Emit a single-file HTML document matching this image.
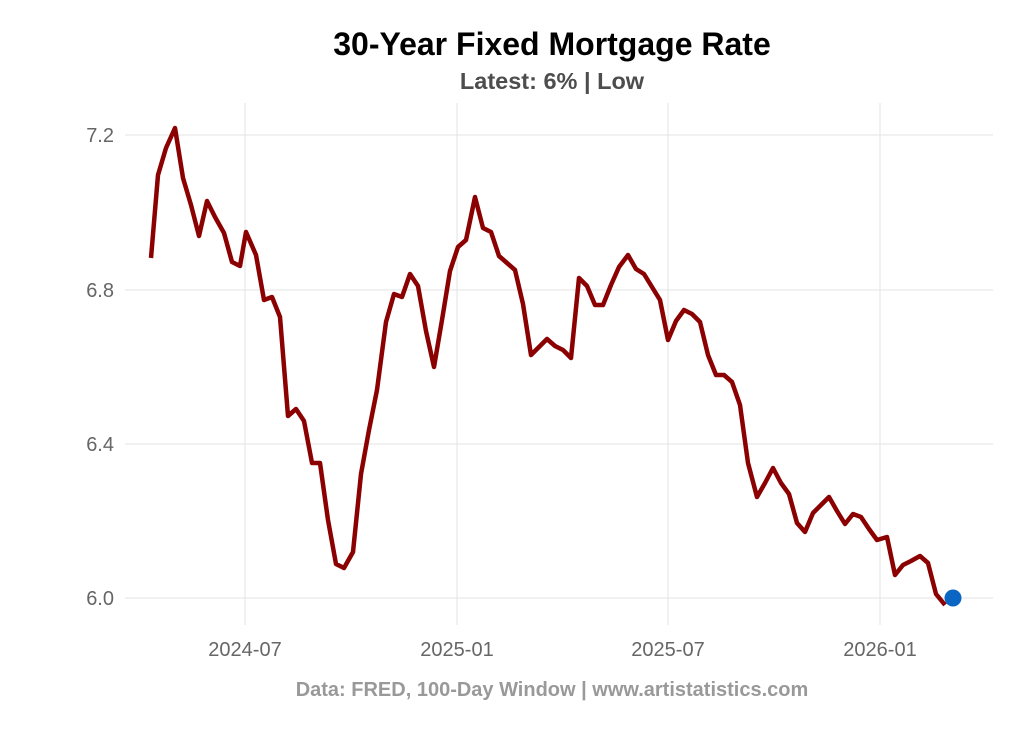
<!DOCTYPE html>
<html><head><meta charset="utf-8"><style>
body{margin:0;background:#fff;}
svg{display:block;font-family:"Liberation Sans",sans-serif;}
</style></head><body>
<svg width="1024" height="731" viewBox="0 0 1024 731">
<rect width="1024" height="731" fill="#fff"/>
<g stroke="#e3e3e3" stroke-width="1">
<line x1="125" y1="135" x2="993" y2="135"/>
<line x1="125" y1="290" x2="993" y2="290"/>
<line x1="125" y1="444" x2="993" y2="444"/>
<line x1="125" y1="598" x2="993" y2="598"/>
<line x1="245" y1="103" x2="245" y2="625"/>
<line x1="457" y1="103" x2="457" y2="625"/>
<line x1="668" y1="103" x2="668" y2="625"/>
<line x1="880" y1="103" x2="880" y2="625"/>
</g>
<g fill="#666" font-size="20" text-anchor="end">
<text x="114" y="142">7.2</text>
<text x="114" y="297">6.8</text>
<text x="114" y="451">6.4</text>
<text x="114" y="605">6.0</text>
</g>
<g fill="#666" font-size="20" text-anchor="middle">
<text x="245" y="656">2024-07</text>
<text x="457" y="656">2025-01</text>
<text x="668" y="656">2025-07</text>
<text x="880" y="656">2026-01</text>
</g>
<polyline fill="none" stroke="#8b0000" stroke-width="4.5" stroke-linejoin="round" points="151,258 158,175 166,148 175,128 183,178 191,205 199,236 207,201 215,217 224,233 232,262 240,266 246,232 256,255 264,300 272,297 280,317 288,416 296,409 304,421 312,463 320,463 328,520 336,564 344,568 353,552 361,474 369,430 377,390 386,322 394,294 402,297 410,274 418,286 426,331 434,367 442,320 450,271 458,247 466,240 475,197 483,228 491,232 499,256 507,263 515,270 523,304 531,355 539,347 547,339 555,346 563,350 571,358 579,278 587,286 595,305 603,305 611,285 619,267 628,255 636,269 644,274 652,287 660,300 668,340 676,321 684,310 692,314 700,322 708,355 716,375 724,375 732,382 740,405 748,463 757,497 765,483 773,468 781,483 789,494 797,523 805,532 813,513 821,505 829,497 837,511 845,524 853,514 861,517 869,529 877,540 887,537 895,575 903,565 911,561 920,556 928,563 936,594 945,605"/>
<circle cx="953" cy="598" r="8.5" fill="#0a66c2"/>
<text x="552" y="55" text-anchor="middle" font-size="32" font-weight="bold" fill="#000">30-Year Fixed Mortgage Rate</text>
<text x="552" y="89" text-anchor="middle" font-size="23.5" font-weight="bold" fill="#4d4d4d">Latest: 6% | Low</text>
<text x="552" y="696" text-anchor="middle" font-size="20" font-weight="bold" fill="#999">Data: FRED, 100-Day Window | www.artistatistics.com</text>
</svg>
</body></html>
